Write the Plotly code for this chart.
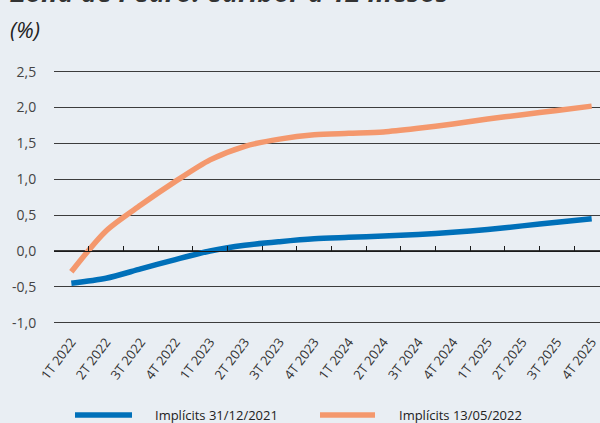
import plotly.graph_objects as go

categories = ["1T 2022", "2T 2022", "3T 2022", "4T 2022",
              "1T 2023", "2T 2023", "3T 2023", "4T 2023",
              "1T 2024", "2T 2024", "3T 2024", "4T 2024",
              "1T 2025", "2T 2025", "3T 2025", "4T 2025"]
implicits_2021 = [-0.45, -0.38, -0.25, -0.12, 0.0, 0.08, 0.13, 0.17,
                  0.19, 0.21, 0.23, 0.26, 0.30, 0.35, 0.40, 0.45]
implicits_2022 = [-0.29, 0.28, 0.64, 0.97, 1.27, 1.46, 1.56, 1.62,
                  1.64, 1.66, 1.71, 1.77, 1.84, 1.90, 1.96, 2.02]
series_names = ["Implícits 31/12/2021", "Implícits 13/05/2022"]
y_ticks = [-1.0, -0.5, 0.0, 0.5, 1.0, 1.5, 2.0, 2.5]
y_ticklabels = ["-1,0", "-0,5", "0,0", "0,5", "1,0", "1,5", "2,0", "2,5"]

BLUE = "#0070b9"
ORANGE = "#f4986d"
BG = "#e9eef3"
FONT = "Open Sans"

# layout geometry (pixels)
L, T, B = 54, 55, 92
H = 423 - T - B
W = 600 - L
y_min = -1.0 - (423 - B - 322.7) / 71.71
y_max = 2.5 + (71.7 - T) / 71.71
x_range = [-0.5, 15.24]
zero_frac = (0 - y_min) / (y_max - y_min)

xs = list(range(len(categories)))
fig = go.Figure()
fig.add_trace(go.Scatter(x=xs, y=implicits_2021, mode="lines", name=series_names[0],
                         line=dict(color=BLUE, width=5.5, shape="spline", smoothing=0.8),
                         showlegend=False))
fig.add_trace(go.Scatter(x=xs, y=implicits_2022, mode="lines", name=series_names[1],
                         line=dict(color=ORANGE, width=5.5, shape="spline", smoothing=0.8),
                         showlegend=False))
# invisible trace to activate the zero-line axis pair
fig.add_trace(go.Scatter(x=[None], y=[None], xaxis="x2", yaxis="y2",
                         showlegend=False, hoverinfo="skip"))

fig.update_layout(
    width=600, height=423,
    margin=dict(l=L, r=0, t=T, b=B),
    paper_bgcolor=BG, plot_bgcolor="rgba(0,0,0,0)",
    font=dict(family=FONT, color="#333333"),
    xaxis=dict(range=x_range, tickvals=xs, ticktext=categories, tickangle=-53,
               showgrid=False, zeroline=False, showline=False, ticks="",
               ticklabeloverflow="allow",
               tickfont=dict(size=13, color="#333333")),
    yaxis=dict(range=[y_min, y_max], tickvals=y_ticks, ticktext=y_ticklabels,
               showgrid=True, gridcolor="#3c3c3c", gridwidth=1.2,
               zeroline=False, showline=False,
               ticks="outside", ticklen=14, tickcolor="rgba(0,0,0,0)",
               tickfont=dict(size=14, color="#444444")),
    xaxis2=dict(range=x_range, anchor="y2", domain=[0, 1],
                showline=True, linecolor="#1a1a1a", linewidth=1.3,
                ticks="inside", ticklen=5, tickwidth=1.3, tickcolor="#1a1a1a",
                tickvals=[i - 0.5 for i in xs], showticklabels=False,
                showgrid=False, zeroline=False),
    yaxis2=dict(domain=[zero_frac, 1], anchor="x2", range=[0, 1], visible=False,
                showgrid=False, zeroline=False),
    showlegend=False,
)

# title (mostly cut off at the top edge, as in the reference)
fig.add_annotation(text="<b><i>Zona de l'euro: euríbor a 12 mesos</i></b>",
                   xref="paper", yref="paper",
                   x=(8 - L) / W, y=1 + (T - 12) / H, xanchor="left", yanchor="bottom",
                   showarrow=False, font=dict(size=27, color="#333333", family=FONT))

fig.add_annotation(text="<i>(%)</i>", xref="paper", yref="paper",
                   x=(8 - L) / W, y=1 + (T - 29) / H, xanchor="left", yanchor="middle",
                   showarrow=False, font=dict(size=22, color="#222222", family=FONT))

# manual legend
legend_y = -(415 - (423 - B)) / H
legend_items = [(series_names[0], BLUE, 75, 132, 153), (series_names[1], ORANGE, 320, 375, 397)]
for name, color, x0, x1, xt in legend_items:
    fig.add_shape(type="line", xref="paper", yref="paper",
                  x0=(x0 - L) / W, x1=(x1 - L) / W, y0=legend_y, y1=legend_y,
                  line=dict(color=color, width=5.5))
    fig.add_annotation(text=name, xref="paper", yref="paper",
                       x=(xt - L) / W, y=legend_y, xanchor="left", yanchor="middle",
                       showarrow=False, font=dict(size=13, color="#222222", family=FONT))

fig.write_html("out.html")
